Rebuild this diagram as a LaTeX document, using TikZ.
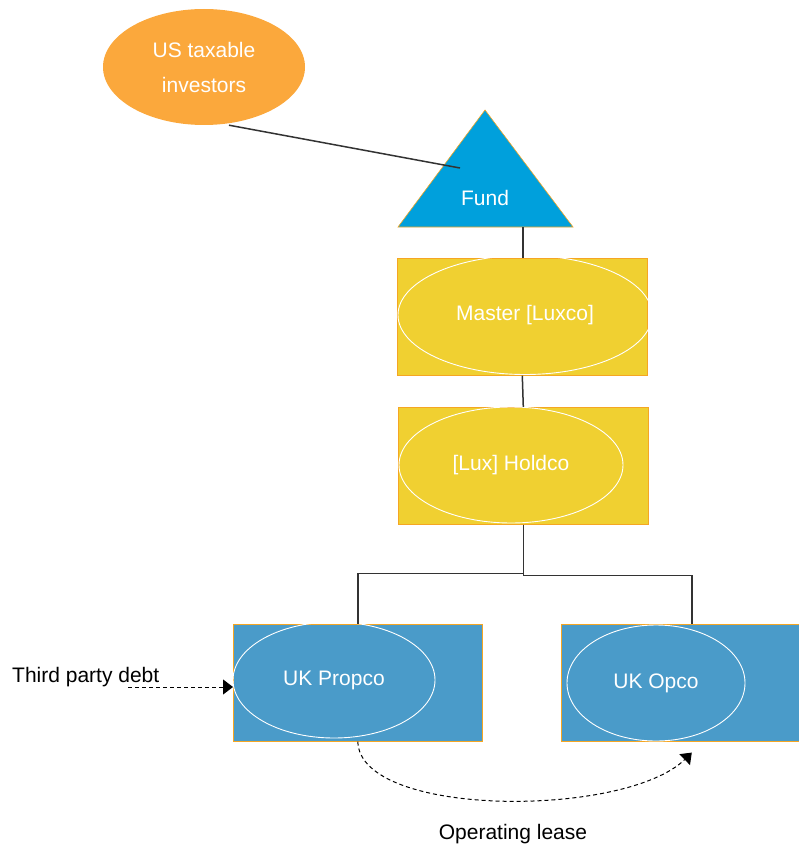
\documentclass[tikz,border=0pt]{standalone}
\usepackage{fontspec}
\setmainfont{Liberation Sans}
\usetikzlibrary{shapes.geometric,arrows.meta,calc}
\definecolor{invorange}{HTML}{FBA83C}
\definecolor{fundblue}{HTML}{00A0DC}
\definecolor{luxyellow}{HTML}{F0D031}
\definecolor{ukblue}{HTML}{4A9BC9}
\definecolor{edgeorange}{HTML}{F5A623}
\definecolor{linegray}{HTML}{333333}
\begin{document}
\begin{tikzpicture}[x=1pt,y=-1pt,
  box/.style={draw=edgeorange, line width=0.6pt, inner sep=0pt, anchor=north west},
  oval/.style={ellipse, draw=white, line width=0.9pt, inner sep=0pt, text=white, font=\fontsize{21}{25}\selectfont},
  wtext/.style={text=white, font=\fontsize{21}{25}\selectfont, inner sep=0pt},
  conn/.style={draw=linegray, line width=1.5pt},
  dashconn/.style={draw=black, line width=1pt, dash pattern=on 4pt off 3pt, -{Triangle[length=10pt,width=15pt]}},
  lbl/.style={font=\fontsize{21}{25}\selectfont, text=black, inner sep=0pt}]
\useasboundingbox (0,0) rectangle (798,845);
% investors
\node[ellipse, fill=invorange, minimum width=202pt, minimum height=116pt, inner sep=0pt,
      text=white, align=center, font=\fontsize{21}{35}\selectfont] (inv) at (204,67) {US taxable\\investors};
% fund triangle
\filldraw[fill=fundblue, draw=edgeorange, line width=0.6pt] (485,110) -- (573,227) -- (398,227) -- cycle;
\node[wtext] (fund) at (485,198) {Fund};
\coordinate (fundin) at (460,168);
\coordinate (fundbase) at (523,227);
% master
\node[box, fill=luxyellow, minimum width=250pt, minimum height=117pt] (masterbox) at (397,258) {};
\node[oval, minimum width=254pt, minimum height=119pt] (master) at (525,315) {Master [Luxco]};
% holdco
\node[box, fill=luxyellow, minimum width=250pt, minimum height=117pt] (holdbox) at (398,407) {};
\node[oval, minimum width=224pt, minimum height=116pt] (hold) at (511,465) {[Lux] Holdco};
% propco
\node[box, fill=ukblue, minimum width=249pt, minimum height=117pt] (propbox) at (233,624) {};
\node[oval, minimum width=202pt, minimum height=116pt] (prop) at (334,680) {UK Propco};
% opco
\node[box, fill=ukblue, minimum width=261pt, minimum height=117pt] (opbox) at (561,624) {};
\node[oval, minimum width=178pt, minimum height=116pt] (op) at (656,683) {UK Opco};
% connectors
\draw[conn] ($(inv.south)+(25,0)$) -- (fundin);
\draw[conn] (fundbase) -- (masterbox.north -| fundbase);
\draw[conn] (masterbox.south) -- (holdbox.north);
\draw[conn] (holdbox.south) -- ++(0,49) -| (propbox.north);
\draw[conn] (holdbox.south) -- ++(0,51) -| (opbox.north);
% third party debt
\node[lbl, anchor=west] (debt) at (12,677) {Third party debt};
\coordinate (debtstart) at (128,687);
\draw[dashconn] (debtstart) -- (debtstart -| propbox.west);
% operating lease
\coordinate (leaseend) at ($(opbox.south)+(0,11)$);
\draw[dashconn] (propbox.south) .. controls (360,818) and (625,818) .. (leaseend);
\node[lbl] (lease) at (513,834) {Operating lease};
\end{tikzpicture}
\end{document}
